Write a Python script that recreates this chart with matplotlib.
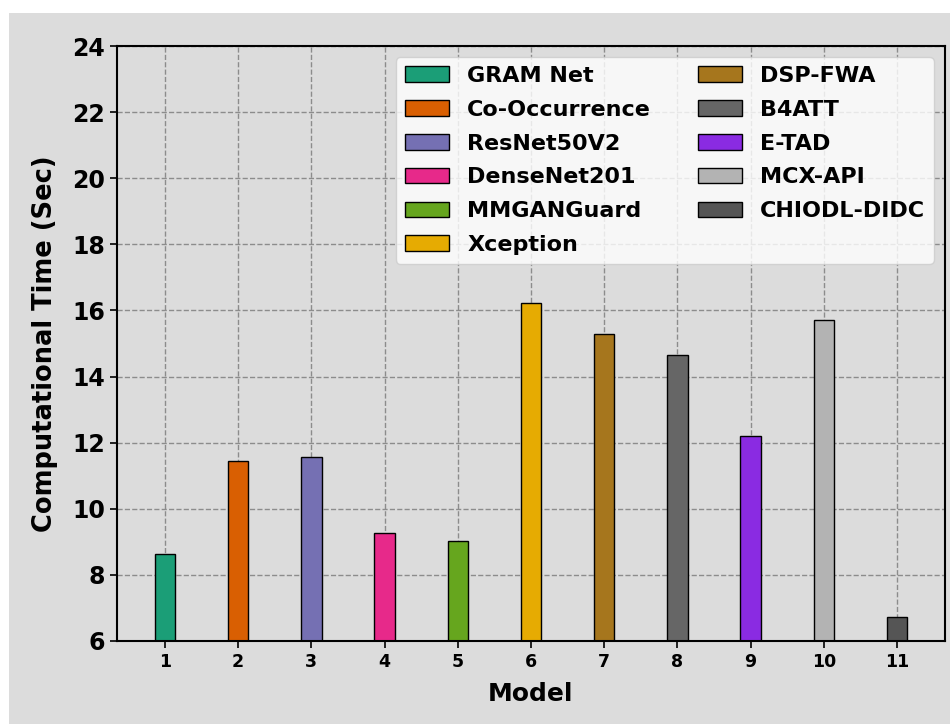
import matplotlib.pyplot as plt
from matplotlib.patches import Rectangle

models = ["GRAM Net", "Co-Occurrence", "ResNet50V2", "DenseNet201", "MMGANGuard",
          "Xception", "DSP-FWA", "B4ATT", "E-TAD", "MCX-API", "CHIODL-DIDC"]
positions = list(range(1, 12))
times = [8.62, 11.44, 11.58, 9.26, 9.03, 16.24, 15.30, 14.65, 12.21, 15.70, 6.73]
colors = ["#1b9e77", "#d95f02", "#7570b3", "#e7298a", "#66a61e", "#e6ab02",
          "#a6761d", "#666666", "#8a2be2", "#b3b3b3", "#555555"]

bg = "#dcdcdc"

fig = plt.figure(figsize=(9.5, 7.24), dpi=100, facecolor="white")
# gray figure area (the reference is cropped with a white strip on top / left)
fig.patches.append(Rectangle((9 / 950, 0), 1, 1 - 13 / 724, transform=fig.transFigure,
                             facecolor=bg, edgecolor="none", zorder=-10))

ax = fig.add_axes([117 / 950, 1 - 641 / 724, (945 - 117) / 950, (641 - 46) / 724])
ax.set_facecolor(bg)

for x, t, c, m in zip(positions, times, colors, models):
    ax.bar(x, t - 6, bottom=6, width=0.28, color=c, edgecolor="black",
           linewidth=1.0, label=m)

ax.set_ylim(6, 24)
ax.set_yticks(range(6, 25, 2))
ax.set_xticks(positions)
ax.set_axisbelow(True)
ax.grid(True, linestyle="--", color="#8c8c8c", linewidth=1.0)

for lbl in ax.get_yticklabels():
    lbl.set_fontsize(17)
    lbl.set_fontweight("bold")
for lbl in ax.get_xticklabels():
    lbl.set_fontsize(12.5)
    lbl.set_fontweight("bold")

for s in ax.spines.values():
    s.set_linewidth(1.5)
ax.tick_params(width=1.2, length=5)

ax.set_xlabel("Model", fontsize=18, fontweight="bold", labelpad=8)
ax.set_ylabel("Computational Time (Sec)", fontsize=18.5, fontweight="bold", labelpad=10)

ax.legend(loc="upper right", ncol=2, prop={"size": 16, "weight": "bold"},
          columnspacing=2.1, labelspacing=0.62)

fig.savefig("out.png", dpi=100, facecolor=fig.get_facecolor())
